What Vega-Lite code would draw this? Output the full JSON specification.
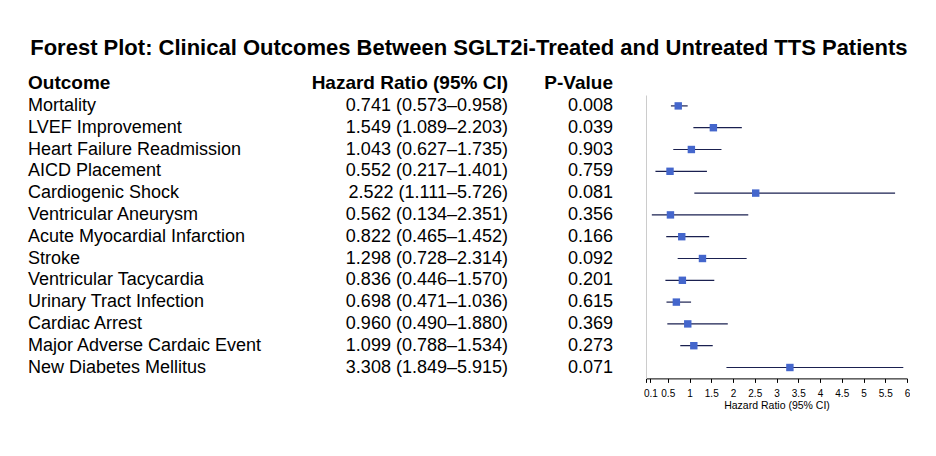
{
  "$schema": "https://vega.github.io/schema/vega-lite/v6.json",
  "padding": {"left": 28, "top": 37, "right": 0, "bottom": 0},
  "title": {"text": "Forest Plot: Clinical Outcomes Between SGLT2i-Treated and Untreated TTS Patients", "font": "Liberation Sans", "fontSize": 22, "fontWeight": "bold", "anchor": "middle", "offset": 14, "color": "black"},
  "config": {"view": {"stroke": null}, "font": "Liberation Sans", "axis": {"labelOverlap": false}},
  "bounds": "flush",
  "spacing": 33,
  "data": {"values": [
    {"outcome": "Mortality", "hr": 0.741, "lo": 0.573, "hi": 0.958, "ci": "0.741 (0.573–0.958)", "p": "0.008"},
    {"outcome": "LVEF Improvement", "hr": 1.549, "lo": 1.089, "hi": 2.203, "ci": "1.549 (1.089–2.203)", "p": "0.039"},
    {"outcome": "Heart Failure Readmission", "hr": 1.043, "lo": 0.627, "hi": 1.735, "ci": "1.043 (0.627–1.735)", "p": "0.903"},
    {"outcome": "AICD Placement", "hr": 0.552, "lo": 0.217, "hi": 1.401, "ci": "0.552 (0.217–1.401)", "p": "0.759"},
    {"outcome": "Cardiogenic Shock", "hr": 2.522, "lo": 1.111, "hi": 5.726, "ci": "2.522 (1.111–5.726)", "p": "0.081"},
    {"outcome": "Ventricular Aneurysm", "hr": 0.562, "lo": 0.134, "hi": 2.351, "ci": "0.562 (0.134–2.351)", "p": "0.356"},
    {"outcome": "Acute Myocardial Infarction", "hr": 0.822, "lo": 0.465, "hi": 1.452, "ci": "0.822 (0.465–1.452)", "p": "0.166"},
    {"outcome": "Stroke", "hr": 1.298, "lo": 0.728, "hi": 2.314, "ci": "1.298 (0.728–2.314)", "p": "0.092"},
    {"outcome": "Ventricular Tacycardia", "hr": 0.836, "lo": 0.446, "hi": 1.570, "ci": "0.836 (0.446–1.570)", "p": "0.201"},
    {"outcome": "Urinary Tract Infection", "hr": 0.698, "lo": 0.471, "hi": 1.036, "ci": "0.698 (0.471–1.036)", "p": "0.615"},
    {"outcome": "Cardiac Arrest", "hr": 0.960, "lo": 0.490, "hi": 1.880, "ci": "0.960 (0.490–1.880)", "p": "0.369"},
    {"outcome": "Major Adverse Cardaic Event", "hr": 1.099, "lo": 0.788, "hi": 1.534, "ci": "1.099 (0.788–1.534)", "p": "0.273"},
    {"outcome": "New Diabetes Mellitus", "hr": 3.308, "lo": 1.849, "hi": 5.915, "ci": "3.308 (1.849–5.915)", "p": "0.071"}
  ]},
  "hconcat": [
    {
      "width": 180, "height": {"step": 21.8},
      "title": {"text": "Outcome", "anchor": "start", "frame": "group", "fontSize": 19, "fontWeight": "bold", "baseline": "alphabetic", "offset": -13, "color": "black"},
      "mark": {"type": "text", "align": "left", "baseline": "middle", "fontSize": 18, "color": "black"},
      "encoding": {
        "y": {"field": "outcome", "type": "nominal", "sort": null, "axis": null, "scale": {"type": "point", "padding": 0.5}},
        "x": {"datum": 0, "scale": {"domain": [0, 1]}, "axis": null},
        "text": {"field": "outcome"}
      }
    },
    {
      "width": 267, "height": {"step": 21.8},
      "title": {"text": "Hazard Ratio (95% CI)", "anchor": "end", "frame": "group", "fontSize": 19, "fontWeight": "bold", "baseline": "alphabetic", "offset": -13, "color": "black"},
      "mark": {"type": "text", "align": "right", "baseline": "middle", "fontSize": 18, "color": "black"},
      "encoding": {
        "y": {"field": "outcome", "type": "nominal", "sort": null, "axis": null, "scale": {"type": "point", "padding": 0.5}},
        "x": {"datum": 1, "scale": {"domain": [0, 1]}, "axis": null},
        "text": {"field": "ci"}
      }
    },
    {
      "width": 72, "height": {"step": 21.8},
      "title": {"text": "P-Value", "anchor": "end", "frame": "group", "fontSize": 19, "fontWeight": "bold", "baseline": "alphabetic", "offset": -13, "color": "black"},
      "mark": {"type": "text", "align": "right", "baseline": "middle", "fontSize": 18, "color": "black"},
      "encoding": {
        "y": {"field": "outcome", "type": "nominal", "sort": null, "axis": null, "scale": {"type": "point", "padding": 0.5}},
        "x": {"datum": 1, "scale": {"domain": [0, 1]}, "axis": null},
        "text": {"field": "p"}
      }
    },
    {
      "width": 261, "height": {"step": 21.8},
      "encoding": {
        "y": {"field": "outcome", "type": "nominal", "sort": null, "scale": {"type": "point", "padding": 0.5}, "axis": {"title": null, "labels": false, "ticks": false, "domainColor": "#cccccc", "domainWidth": 1, "grid": false}}
      },
      "layer": [
        {
          "mark": {"type": "rule", "color": "#1a2050", "strokeWidth": 1.2},
          "encoding": {
            "x": {"field": "lo", "type": "quantitative", "scale": {"domain": [0, 6], "nice": false, "zero": false},
              "axis": {"title": "Hazard Ratio (95% CI)", "values": [0, 0.1, 0.5, 1, 1.5, 2, 2.5, 3, 3.5, 4, 4.5, 5, 5.5, 6], "labelExpr": "datum.value == 0 ? '' : format(datum.value, '~g')", "labelFontSize": 10, "titleFontSize": 10.5, "titleFontWeight": "normal", "domainColor": "black", "tickColor": "black", "labelColor": "black", "titleColor": "black", "tickSize": 4, "labelPadding": 6, "titlePadding": 2, "grid": false, "labelOverlap": false, "labelFlush": false}},
            "x2": {"field": "hi"}
          }
        },
        {
          "mark": {"type": "point", "shape": "square", "filled": true, "size": 55, "color": "#4466cc", "opacity": 1},
          "encoding": {"x": {"field": "hr", "type": "quantitative",
              "axis": {"title": "Hazard Ratio (95% CI)", "values": [0, 0.1, 0.5, 1, 1.5, 2, 2.5, 3, 3.5, 4, 4.5, 5, 5.5, 6], "labelExpr": "datum.value == 0 ? '' : format(datum.value, '~g')", "labelFontSize": 10, "titleFontSize": 10.5, "titleFontWeight": "normal", "domainColor": "black", "tickColor": "black", "labelColor": "black", "titleColor": "black", "tickSize": 4, "labelPadding": 6, "titlePadding": 2, "grid": false, "labelOverlap": false, "labelFlush": false}}}
        }
      ]
    }
  ]
}
